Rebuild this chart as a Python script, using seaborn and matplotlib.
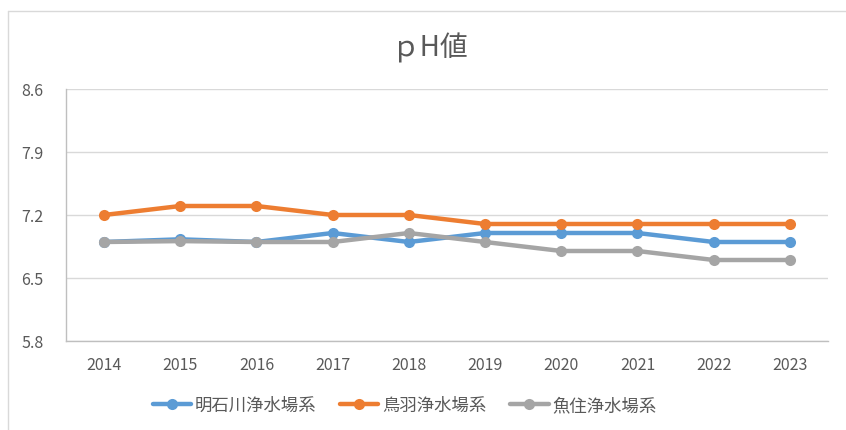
import matplotlib
matplotlib.use('Agg')
import matplotlib.pyplot as plt
from matplotlib.lines import Line2D
import seaborn as sns
import pandas as pd

# データ
years = [2014, 2015, 2016, 2017, 2018, 2019, 2020, 2021, 2022, 2023]
series_names = ['明石川浄水場系', '鳥羽浄水場系', '魚住浄水場系']
akashigawa = [6.9, 6.93, 6.9, 7.0, 6.9, 7.0, 7.0, 7.0, 6.9, 6.9]
toba = [7.2, 7.3, 7.3, 7.2, 7.2, 7.1, 7.1, 7.1, 7.1, 7.1]
uozumi = [6.9, 6.91, 6.9, 6.9, 7.0, 6.9, 6.8, 6.8, 6.7, 6.7]
y_ticks = [5.8, 6.5, 7.2, 7.9, 8.6]
colors = ['#5B9BD5', '#ED7D31', '#A5A5A5']

sns.set_style('white')
plt.rcParams['font.family'] = ['Noto Sans CJK JP', 'DejaVu Sans']

df = pd.DataFrame({
    'idx': list(range(len(years))) * 3,
    'value': akashigawa + toba + uozumi,
    'series': sum([[n] * len(years) for n in series_names], []),
})

fig = plt.figure(figsize=(8.46, 4.31), dpi=100)
ax = fig.add_axes([0.078, 0.2065, 0.9007, 0.5847])

sns.lineplot(data=df, x='idx', y='value', hue='series', hue_order=series_names,
             palette=colors, marker='o', markersize=8, markeredgewidth=0,
             linewidth=3.2, ax=ax, legend=False)

ax.set_xlim(-0.5, len(years) - 0.5)
ax.set_ylim(y_ticks[0], y_ticks[-1])
ax.set_yticks(y_ticks)
ax.set_yticklabels([f'{t:.1f}' for t in y_ticks])
ax.set_xticks(range(len(years)))
ax.set_xticklabels([str(y) for y in years])
ax.set_xlabel('')
ax.set_ylabel('')
ax.tick_params(axis='both', length=0, labelsize=11.5, labelcolor='#595959')
ax.tick_params(axis='x', pad=11)
ax.tick_params(axis='y', pad=16)
ax.grid(axis='y', color='#D9D9D9', linewidth=1)
ax.set_axisbelow(True)
for s in ['top', 'right']:
    ax.spines[s].set_visible(False)
for s in ['left', 'bottom']:
    ax.spines[s].set_color('#BFBFBF')
    ax.spines[s].set_linewidth(1)

fig.text(0.508, 0.888, 'ｐH値', ha='center', va='center', fontsize=20, color='#595959')

handles = [Line2D([0], [0], color=c, linewidth=3.2, marker='o', markersize=8,
                  markeredgewidth=0) for c in colors]
fig.legend(handles, series_names, loc='center', bbox_to_anchor=(0.478, 0.058),
           ncol=3, frameon=False, fontsize=12.5, labelcolor='#595959',
           handlelength=2.2, handletextpad=0.2, columnspacing=1.4)

# チャート枠線
fig.add_artist(Line2D([8 / 846, 1], [1 - 12 / 431, 1 - 12 / 431],
                      transform=fig.transFigure, color='#D9D9D9', linewidth=1))
fig.add_artist(Line2D([8 / 846, 8 / 846], [0, 1 - 12 / 431],
                      transform=fig.transFigure, color='#D9D9D9', linewidth=1))

fig.savefig('out.png', dpi=100, facecolor='white')
